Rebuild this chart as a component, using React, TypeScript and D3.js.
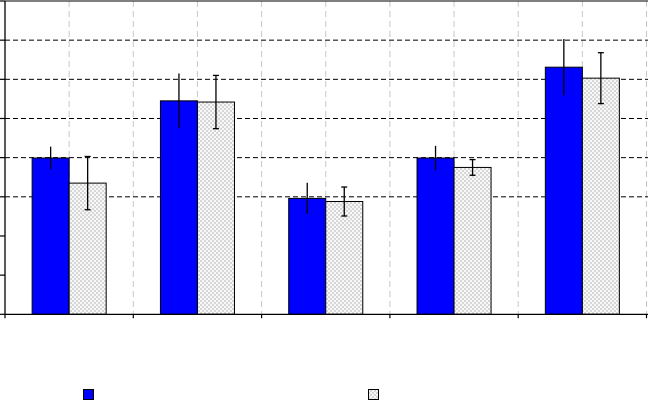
import React from "react";
import * as d3 from "d3";

const categories = ["A", "B", "C", "D", "E"];
const seriesNames = ["Series 1", "Series 2"];
const series1 = [3.99, 5.45, 2.96, 3.99, 6.31];
const series2 = [3.35, 5.42, 2.88, 3.75, 6.03];
const err1 = [0.29, 0.7, 0.4, 0.31, 0.72];
const err2 = [0.68, 0.68, 0.37, 0.2, 0.65];
const yTicks = [0, 1, 2, 3, 4, 5, 6, 7, 8];
const gridValues = [3, 4, 5, 6, 7];

const W = 648;
const H = 404;

export default function App() {
  const x0 = 5;
  const x1 = 646.5;
  const yTop = 1;
  const yBot = 314.3;
  const x = d3.scaleBand<string>().domain(categories).range([x0, x1]).paddingInner(0).paddingOuter(0);
  const y = d3.scaleLinear().domain([0, 8]).range([yBot, yTop]);
  const bw = x.bandwidth();
  const barW = bw * 0.2885;
  const sub = d3.scaleBand<string>().domain(seriesNames).range([bw / 2 - barW, bw / 2 + barW]).padding(0);

  const vLines: number[] = [];
  categories.forEach((c) => {
    vLines.push((x(c) as number) + bw / 2);
    vLines.push((x(c) as number) + bw);
  });

  const data = [series1, series2];
  const errs = [err1, err2];
  const fills = ["#0000ff", "url(#dots)"];

  return (
    <svg width={W} height={H} style={{ position: "absolute", left: 0, top: 0, background: "#fff" }}>
      <defs>
        <pattern id="dots" width={4} height={4} patternUnits="userSpaceOnUse">
          <rect width={4} height={4} fill="#f8f8f8" />
          <rect x={0} y={0} width={2} height={2} fill="#d6d6d6" />
          <rect x={2} y={2} width={2} height={2} fill="#d6d6d6" />
        </pattern>
      </defs>
      {vLines.map((vx, i) => (
        <line key={"v" + i} x1={vx} x2={vx} y1={yTop} y2={yBot} stroke="#c8c8c8" strokeWidth={1} strokeDasharray="6,4" />
      ))}
      {gridValues.map((v) => (
        <line key={"h" + v} x1={x0} x2={W} y1={y(v)} y2={y(v)} stroke="#000" strokeWidth={1} strokeDasharray="5,3" />
      ))}
      <line x1={x0} x2={W} y1={y(8)} y2={y(8)} stroke="#000" strokeWidth={1.2} />
      {data.map((vals, si) =>
        vals.map((v, ci) => {
          const bx = (x(categories[ci]) as number) + (sub(seriesNames[si]) as number);
          return (
            <rect key={`b${si}-${ci}`} x={bx} y={y(v)} width={barW} height={yBot - y(v)} fill={fills[si]} stroke="#000" strokeWidth={1} />
          );
        })
      )}
      {data.map((vals, si) =>
        vals.map((v, ci) => {
          const cx = (x(categories[ci]) as number) + (sub(seriesNames[si]) as number) + barW / 2;
          const e = errs[si][ci];
          const t = y(v + e);
          const b = y(v - e);
          return (
            <g key={`e${si}-${ci}`} stroke="#000" strokeWidth={1.3}>
              <line x1={cx} x2={cx} y1={t} y2={b} />
              {si === 1 && (
                <>
                  <line x1={cx - 3} x2={cx + 3} y1={t} y2={t} />
                  <line x1={cx - 3} x2={cx + 3} y1={b} y2={b} />
                </>
              )}
            </g>
          );
        })
      )}
      <line x1={x0} x2={x0} y1={yTop} y2={yBot} stroke="#000" strokeWidth={1.3} />
      {yTicks.map((t) => (
        <line key={"yt" + t} x1={0} x2={x0} y1={y(t)} y2={y(t)} stroke="#000" strokeWidth={1.2} />
      ))}
      <line x1={x0} x2={W} y1={yBot} y2={yBot} stroke="#000" strokeWidth={1.3} />
      {[x0, ...categories.map((c) => (x(c) as number) + bw)].map((tx, i) => (
        <line key={"xt" + i} x1={tx} x2={tx} y1={yBot} y2={yBot + 4} stroke="#000" strokeWidth={1.2} />
      ))}
      <rect x={83.5} y={389.5} width={10} height={10} fill="#0000ff" stroke="#000" strokeWidth={1} />
      <rect x={368.5} y={389.5} width={10} height={10} fill="url(#dots)" stroke="#000" strokeWidth={1} />
    </svg>
  );
}
